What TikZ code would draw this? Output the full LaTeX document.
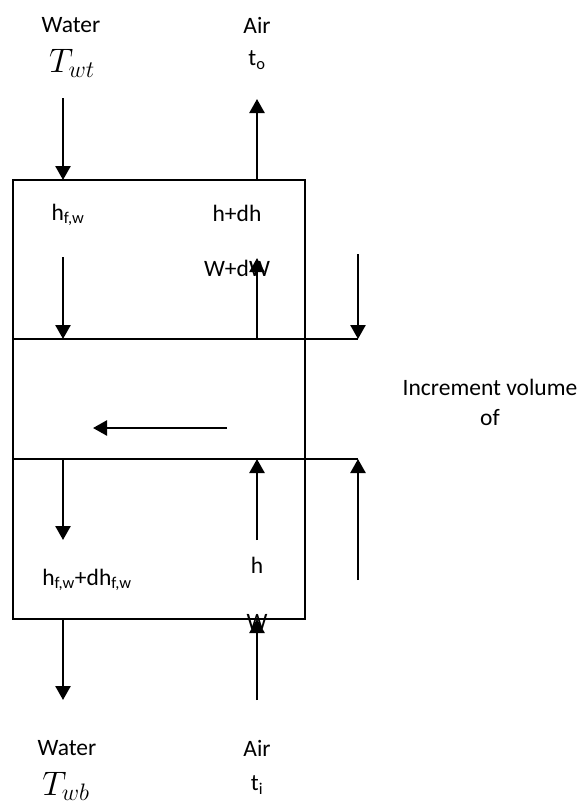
\RequirePackage{fix-cm}
\documentclass[tikz,border=0pt]{standalone}
\usepackage{fontspec}
\setmainfont{Carlito}
\usetikzlibrary{arrows.meta}

\begin{document}
\begin{tikzpicture}[
  x=1pt, y=-1pt,
  lbl/.style={font=\fontsize{23.5}{27}\selectfont, inner sep=0pt},
  mlbl/.style={font=\fontsize{34}{38}\selectfont, inner sep=0pt},
  arr/.style={-{Triangle[length=14pt,width=15pt]}, line width=2.5pt},
  wall/.style={line width=2.6pt}
]
\useasboundingbox (0,0) rectangle (582,804);
% labels
\node[lbl] (wtop) at (71,25) {Water};
\node[mlbl] (twt) at (72,63) {$T_{wt}$};
\node[lbl] (atop) at (257,25) {Air};
\node[lbl] (to) at (257,60) {t\textsubscript{o}};
\node[lbl] (hfw) at (68,215) {h\textsubscript{f,w}};
\node[lbl] (hdh) at (237,213) {h+dh};
\node[lbl] (wdw) at (237,268) {W+dW};
\node[lbl] (inc) at (490,387) {Increment volume};
\node[lbl] (of) at (490,418) {of};
\node[lbl] (hin) at (257,565) {h};
\node[lbl] (hfwd) at (87,580) {h\textsubscript{f,w}+dh\textsubscript{f,w}};
\node[lbl] (win) at (257,622) {W};
\node[lbl] (wbot) at (67,748) {Water};
\node[mlbl] (twb) at (66,786) {$T_{wb}$};
\node[lbl] (abot) at (257,748) {Air};
\node[lbl] (ti) at (257,785) {t\textsubscript{i}};
% volume
\coordinate (nw) at (13,180);
\coordinate (se) at (305,619);
\coordinate (ul) at (13,339);
\coordinate (ur) at (358,339);
\coordinate (ll) at (13,459);
\coordinate (lr) at (358,459);
\draw[wall] (nw) rectangle (se);
\draw[wall] (ul) -- (ur);
\draw[wall] (ll) -- (lr);
% arrow ends
\coordinate (w0) at (63,98);
\coordinate (w1) at (63,180);
\coordinate (w2) at (63,257);
\coordinate (w3) at (63,339);
\coordinate (w4) at (63,459);
\coordinate (w5) at (63,540);
\coordinate (w6) at (63,619);
\coordinate (w7) at (63,700);
\coordinate (a0) at (257,99);
\coordinate (a1) at (257,180);
\coordinate (a2) at (257,258);
\coordinate (a3) at (257,339);
\coordinate (a4) at (257,459);
\coordinate (a5) at (257,540);
\coordinate (a6) at (257,619);
\coordinate (a7) at (257,700);
\coordinate (r0) at (358,254);
\coordinate (r1) at (358,580);
\coordinate (m0) at (227,428);
\coordinate (m1) at (93,428);
\draw[arr] (w0) -- (w1);
\draw[arr] (w2) -- (w3);
\draw[arr] (w4) -- (w5);
\draw[arr] (w6) -- (w7);
\draw[arr] (a1) -- (a0);
\draw[arr] (a3) -- (a2);
\draw[arr] (a5) -- (a4);
\draw[arr] (a7) -- (a6);
\draw[arr] (r0) -- (ur);
\draw[arr] (r1) -- (lr);
\draw[arr] (m0) -- (m1);
\end{tikzpicture}
\end{document}
